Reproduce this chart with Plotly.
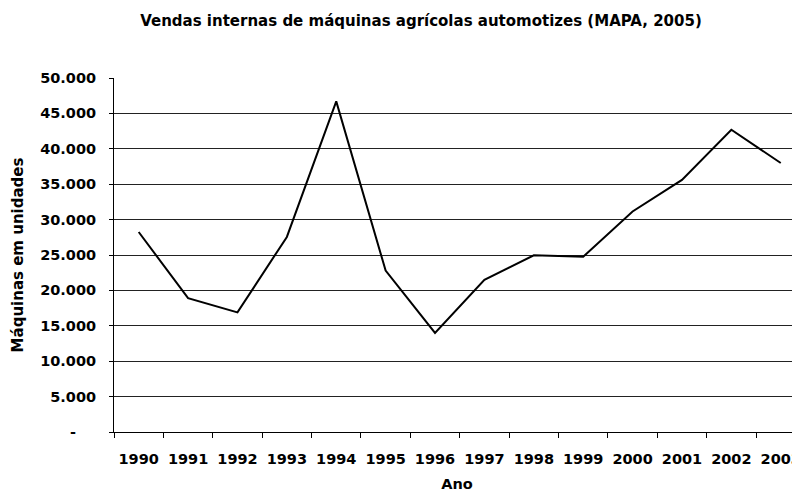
import plotly.graph_objects as go

years = ["1990", "1991", "1992", "1993", "1994", "1995", "1996",
         "1997", "1998", "1999", "2000", "2001", "2002", "2003"]
vendas = [28250, 18900, 16900, 27550, 46700, 22800, 14000,
          21500, 24950, 24750, 31150, 35600, 42700, 38000]
y_ticks = [0, 5000, 10000, 15000, 20000, 25000, 30000, 35000, 40000, 45000, 50000]
y_ticktext = ["-\u00a0\u00a0\u00a0\u00a0", "5.000", "10.000", "15.000", "20.000", "25.000",
              "30.000", "35.000", "40.000", "45.000", "50.000"]

FONT = "DejaVu Sans"
FS = 14.5
W, H = 792, 485  # page body has an 8px margin

fig = go.Figure()
fig.add_trace(go.Scatter(x=years, y=vendas, mode="lines",
                         line=dict(color="black", width=2), showlegend=False,
                         hoverinfo="x+y"))

fig.update_layout(
    width=W, height=H,
    margin=dict(l=106, r=0, t=70, b=61, autoexpand=False),
    paper_bgcolor="white", plot_bgcolor="white",
    font=dict(family=FONT, size=FS, color="black"),
    title=dict(text="<b>Vendas internas de máquinas agrícolas automotizes (MAPA, 2005)</b>",
               x=413 / W, xanchor="center", y=1 - 13 / H, yanchor="middle",
               font=dict(family=FONT, size=15, color="black")),
    xaxis=dict(type="category", range=[-0.5, 13.39], automargin=False,
               tickson="boundaries", ticks="outside", ticklen=5, tickcolor="black",
               showline=True, linecolor="black", linewidth=1,
               showgrid=False, zeroline=False,
               tickfont=dict(family=FONT, size=FS, color="black"),
               ticklabelstandoff=14,
               title=dict(text="<b>Ano</b>", standoff=12,
                          font=dict(family=FONT, size=FS, color="black"))),
    yaxis=dict(range=[0, 50000], tickmode="array", tickvals=y_ticks, automargin=False,
               ticktext=["<b>%s</b>" % t for t in y_ticktext],
               ticks="outside", ticklen=4, tickcolor="black",
               showline=True, linecolor="black", linewidth=1,
               showgrid=True, gridcolor="#222222", gridwidth=1, zeroline=False,
               tickfont=dict(family=FONT, size=FS, color="black"),
               ticklabelstandoff=10,
               title=dict(text="<b>Máquinas em unidades</b>", standoff=12,
                          font=dict(family=FONT, size=15, color="black"))),
)
fig.update_xaxes(tickvals=years, ticktext=["<b>%s</b>" % y for y in years])

fig.write_html("out.html")
